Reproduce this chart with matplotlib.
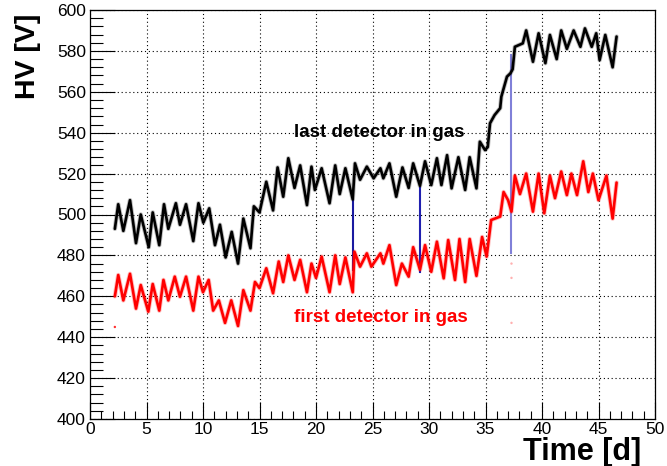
import matplotlib
matplotlib.use("Agg")
import matplotlib.pyplot as plt
from matplotlib.ticker import MultipleLocator

plt.rcParams["font.family"] = ["Liberation Sans", "DejaVu Sans"]

# HV of the last detector in the gas line (peaks/troughs of the daily swing)
last_t = [2.2, 2.5, 2.95, 3.54, 4.07, 4.49, 5.2, 5.55, 6.13, 6.55, 6.93, 7.6, 7.96, 8.5,
          9.14, 9.6, 10.03, 10.55, 11.06, 11.5, 12.0, 12.54, 13.1, 13.57, 14.2, 14.5, 15.0,
          15.6, 16.2, 16.6, 17.1, 17.55, 18.1, 18.6, 19.2, 19.6, 19.9, 20.5, 21.2, 21.7,
          22.1, 22.6, 23.25, 23.45, 23.9, 24.5, 25.1, 25.7, 25.96, 26.5, 27.1, 27.65, 28.2,
          28.6, 29.2, 29.65, 30.2, 30.7, 31.1, 31.6, 32.0, 32.6, 33.2, 33.6, 34.2, 34.5,
          34.96, 35.2, 35.4, 35.8, 36.3, 36.4, 36.9, 37.2, 37.4, 37.6, 38.3, 38.6, 39.2,
          39.7, 40.3, 40.7, 41.3, 41.7, 42.2, 42.8, 43.4, 43.8, 44.4, 44.8, 45.1, 45.6,
          46.25, 46.6]
last_hv = [493, 505, 492, 507, 486, 500, 484, 501, 485, 505, 493, 505.5, 495, 505,
           487, 505.5, 496, 503, 485, 495, 479, 491.5, 476, 498, 483.5, 504, 501,
           516, 502, 523, 508.7, 527.5, 513, 524, 504.6, 523.4, 512, 522.6, 505.5, 524,
           510, 522.6, 507.4, 525, 517, 523.4, 517.7, 522.6, 517.7, 525, 508.7, 523, 513,
           525, 514, 526, 514.4, 527.5, 514.4, 529, 512.8, 528, 512, 528, 512.8, 535.6,
           531.5, 533, 544.6, 548.6, 552, 557.6, 567.4, 569, 571, 582, 583.7, 590, 574.7,
           588.6, 574, 587.8, 576, 590, 581, 590, 582, 591, 582, 588.6, 575.5, 587.8,
           572, 587]

# HV of the first detector in the gas line
first_t = [2.2, 2.5, 2.95, 3.54, 4.07, 4.49, 5.16, 5.55, 6.13, 6.5, 6.93, 7.5, 7.96, 8.5,
           9.14, 9.6, 10.0, 10.5, 10.9, 11.4, 11.95, 12.5, 13.1, 13.57, 14.2, 14.6, 15.0,
           15.6, 16.2, 16.7, 17.1, 17.55, 18.1, 18.6, 19.2, 19.6, 20.0, 20.5, 21.2, 21.7,
           22.1, 22.6, 23.25, 23.4, 23.9, 24.5, 24.9, 25.7, 25.96, 26.5, 27.1, 27.6, 28.2,
           28.6, 29.2, 29.65, 30.2, 30.7, 31.3, 31.7, 32.3, 32.7, 33.2, 33.6, 34.2, 34.7,
           35.1, 35.5, 36.3, 36.6, 37.0, 37.3, 37.6, 38.05, 38.6, 39.2, 39.7, 40.2, 40.7,
           41.15, 41.7, 42.2, 42.6, 43.1, 43.65, 44.1, 44.5, 45.0, 45.7, 46.25, 46.6]
first_hv = [460, 470.4, 458, 471, 454, 465.5, 452.5, 466, 453, 468, 458, 469.6, 459.8, 469.6,
            453, 469.6, 462, 468, 453, 458, 447, 458, 445.5, 463, 453, 467, 464,
            473.7, 461.5, 477, 467, 480, 468, 477.8, 462, 476, 469, 479.4, 462, 480,
            466, 479, 462, 481.8, 474.5, 481, 474.5, 481, 476, 485, 465.5, 476, 469.6,
            484, 473, 485, 472, 486.7, 468.8, 487.5, 468, 488, 467, 488, 470, 489,
            479.4, 497.3, 499, 511, 507, 501.4, 519, 510, 520, 501.4, 520, 500.6, 519,
            508, 521, 509.5, 520, 509.5, 526, 511, 520, 507, 519, 498, 515.6]

# jumps where the readout connects the two channels: time, top, bottom, colour
jump_t = [23.25, 29.2, 37.3]
jump_top = [507, 513, 578]
jump_bottom = [473, 472, 481]
jump_color = ["#1a1aa0", "#2020b0", "#8080d8"]

# isolated stray readings
stray_t = [2.2, 37.3, 37.3, 37.3]
stray_hv = [445, 476, 469, 447]
stray_color = ["#ff3030", "#ffb0b0", "#ffb0b0", "#ffb0b0"]

fig = plt.figure(figsize=(6.67, 4.66), dpi=100)
ax = fig.add_axes([90 / 667, 47 / 466, 565 / 667, 409 / 466])

for t, top, bot, c in zip(jump_t, jump_top, jump_bottom, jump_color):
    ax.plot([t, t], [bot, top], color=c, lw=1.5, zorder=2)

for t, hv, c in [(last_t, last_hv, "black"), (first_t, first_hv, "#ff0000")]:
    ax.plot(t, hv, color=c, lw=3.2, alpha=0.25, solid_joinstyle="round",
            solid_capstyle="round", zorder=3)
    ax.plot(t, hv, color=c, lw=1.9, solid_joinstyle="round",
            solid_capstyle="round", zorder=4)

ax.scatter(stray_t, stray_hv, s=3, c=stray_color, zorder=3, linewidths=0)

ax.text(25.6, 540, "last detector in gas", fontsize=13.5, fontweight="bold",
        ha="center", va="center", color="black")
ax.text(25.7, 449.5, "first detector in gas", fontsize=13.5, fontweight="bold",
        ha="center", va="center", color="#ff0000")

ax.set_xlim(0, 50)
ax.set_ylim(400, 600)
ax.xaxis.set_major_locator(MultipleLocator(5))
ax.xaxis.set_minor_locator(MultipleLocator(1))
ax.yaxis.set_major_locator(MultipleLocator(20))
ax.yaxis.set_minor_locator(MultipleLocator(4))

ax.tick_params(axis="both", which="both", direction="in", top=False, right=False,
               labelsize=12.5, width=0.8)
ax.tick_params(axis="y", which="major", length=18, pad=3)
ax.tick_params(axis="y", which="minor", length=9)
ax.tick_params(axis="x", which="major", length=12, pad=2)
ax.tick_params(axis="x", which="minor", length=6)

ax.grid(True, which="major", color="black", linestyle=(0, (1, 2.5)), lw=0.8)
for s in ax.spines.values():
    s.set_linewidth(0.9)

fig.text(28 / 667, 1 - 14 / 466, "HV [V]", rotation=90, ha="center", va="top",
         fontsize=20.5, fontweight="bold")
fig.text(641 / 667, 1 - 452 / 466, "Time [d]", ha="right", va="center",
         fontsize=22, fontweight="bold")

fig.savefig("out.png", dpi=100)
